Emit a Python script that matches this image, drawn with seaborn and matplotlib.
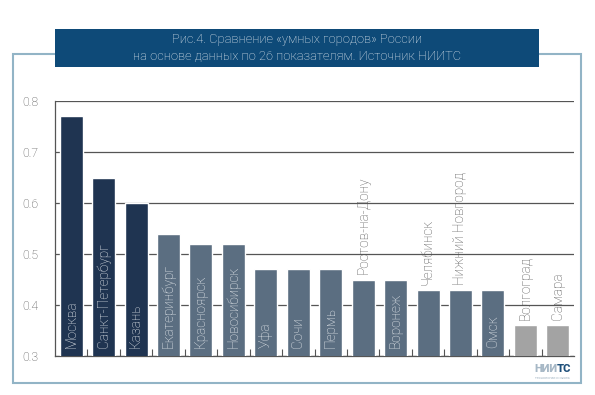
import matplotlib
matplotlib.use("Agg")
import matplotlib.pyplot as plt
from matplotlib.patches import Rectangle
import seaborn as sns
import pandas as pd

cities = ["Москва", "Санкт-Петербург", "Казань", "Екатеринбург", "Красноярск",
          "Новосибирск", "Уфа", "Сочи", "Пермь", "Ростов-на-Дону", "Воронеж",
          "Челябинск", "Нижний Новгород", "Омск", "Волгоград", "Самара"]
values = [0.77, 0.65, 0.60, 0.54, 0.52, 0.52, 0.47, 0.47, 0.47, 0.45, 0.45,
          0.43, 0.43, 0.43, 0.36, 0.36]
groups = ["top"] * 3 + ["mid"] * 11 + ["low"] * 2
yticks = [0.3, 0.4, 0.5, 0.6, 0.7, 0.8]
title_lines = ["Рис.4. Сравнение «умных городов» России",
               "на основе данных по 26 показателям. Источник НИИТС"]

df = pd.DataFrame({"city": cities, "value": values, "group": groups})

sns.set_theme(style="white")
plt.rcParams["font.family"] = ["Roboto", "DejaVu Sans"]

W, H = 595, 395
fig = plt.figure(figsize=(W / 100, H / 100), dpi=100)
fig.patch.set_facecolor("white")

ax = fig.add_axes([55 / W, 1 - 356 / H, (574 - 55) / W, (356 - 101) / H])

palette = {"top": "#1f3451", "mid": "#5b6e81", "low": "#a3a3a3"}
sns.barplot(data=df, x="city", y="value", hue="group", palette=palette,
            dodge=False, legend=False, width=0.71, saturation=1, ax=ax, zorder=3)

ax.set_ylim(0.3, 0.8)
ax.set_xlim(-0.5, len(cities) - 0.5)
ax.set_yticks(yticks)
ax.set_yticklabels([f"{t:.1f}" for t in yticks])
ax.tick_params(axis="y", length=0, pad=12, labelsize=8.8, labelcolor="#505050")
ax.set_xticks([])
ax.set_xticks([i + 0.5 for i in range(len(cities) - 1)], minor=True)
ax.tick_params(axis="x", which="minor", direction="in", length=5, width=0.8,
               color="#555555", bottom=True)
ax.set_xlabel("")
ax.set_ylabel("")
for t in ax.get_yticklabels():
    t.set_fontweight("light")

ax.yaxis.grid(True, color="#555555", linewidth=0.9)
ax.set_axisbelow(True)
for s in ["top", "right"]:
    ax.spines[s].set_visible(False)
for s in ["left", "bottom"]:
    ax.spines[s].set_color("#555555")
    ax.spines[s].set_linewidth(0.9)

fig.canvas.draw()
renderer = fig.canvas.get_renderer()
px_per_unit = (356 - 101) / 0.5
for i, (c, v) in enumerate(zip(cities, values)):
    txt = ax.text(i, 0.3, c, rotation=90, ha="center", va="bottom",
                  fontsize=9.8, fontweight="light", color="#eef1f4", zorder=5)
    txt.set_transform(ax.transData + matplotlib.transforms.ScaledTranslation(0, 8 / 100, fig.dpi_scale_trans))
    ext = txt.get_window_extent(renderer)
    bar_h = (v - 0.3) * px_per_unit
    if ext.height + 12 > bar_h:
        txt.remove()
        t2 = ax.text(i, v, c, rotation=90, ha="center", va="bottom",
                     fontsize=9.8, fontweight="light", color="#555555", zorder=5)
        t2.set_transform(ax.transData + matplotlib.transforms.ScaledTranslation(0, 5 / 100, fig.dpi_scale_trans))

# outer frame
fig.patches.append(Rectangle((13 / W, 1 - 383 / H), (581 - 13) / W, (383 - 54) / H,
                             transform=fig.transFigure, fill=False,
                             edgecolor="#92b4c6", linewidth=1.5, zorder=1))
# title box
fig.patches.append(Rectangle((55 / W, 1 - 67 / H), (539 - 55) / W, (67 - 29) / H,
                             transform=fig.transFigure, facecolor="#0e4a78",
                             edgecolor="none", zorder=2))
fig.text(297 / W, 1 - 48 / H, "\n".join(title_lines), ha="center", va="center",
         fontsize=9.3, fontweight="light", color="#e9eef3", linespacing=1.3, zorder=3)

# logo
fig.text(557 / W, 1 - 369.5 / H, "НИИ", ha="right", va="center", fontsize=8,
         fontweight="heavy", color="#a7b8c6")
fig.text(557 / W, 1 - 369.5 / H, "ТС", ha="left", va="center", fontsize=8,
         fontweight="heavy", color="#1e4f7a")
fig.text(552 / W, 1 - 378 / H, "технологии и связь", ha="center", va="center",
         fontsize=2.8, color="#a7b8c6")

fig.savefig("out.png", dpi=100)
